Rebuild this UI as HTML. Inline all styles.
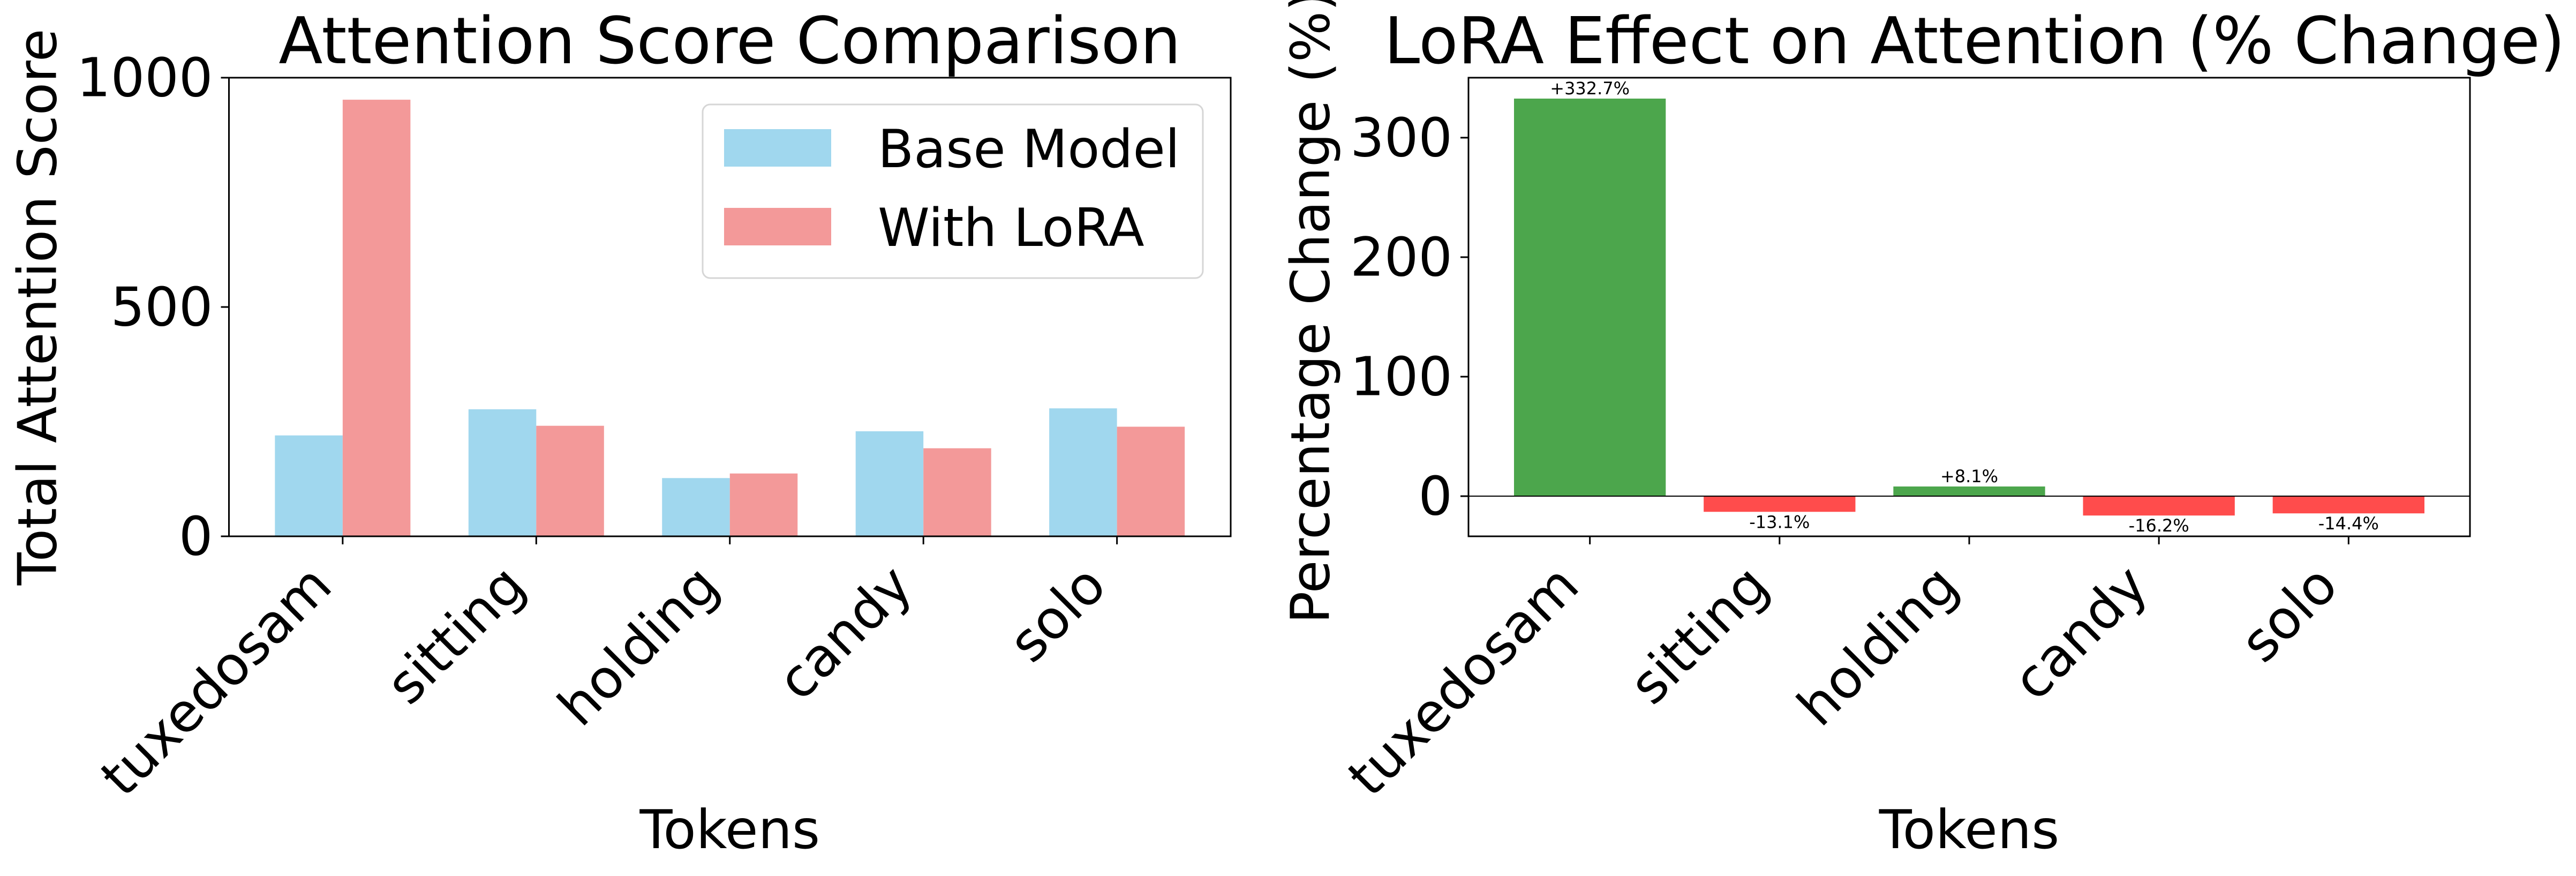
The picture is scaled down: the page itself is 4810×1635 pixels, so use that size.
<!DOCTYPE html>
<html><head><meta charset="utf-8"><style>
html,body{margin:0;padding:0;background:#fff;}
svg{display:block;font-family:"DejaVu Sans","Liberation Sans",sans-serif;}
</style></head><body>
<svg id="fig" width="4810" height="1635" viewBox="0 0 4810 1635" xmlns="http://www.w3.org/2000/svg">
<rect width="4810" height="1635" fill="#fff"/>
<g id="left"></g>
<g id="right"></g>
</svg>
<script>
const categories = ["tuxedosam","sitting","holding","candy","solo"];
const baseValues = [220, 277, 127, 229, 279];
const loraValues = [952, 241, 137, 192, 239];
const pctValues = [332.7, -13.1, 8.1, -16.2, -14.4];
const pctLabels = ["+332.7%","-13.1%","+8.1%","-16.2%","-14.4%"];
const leftYTicks = [0, 500, 1000];
const rightYTicks = [0, 100, 200, 300];

const NS = "http://www.w3.org/2000/svg";
function mk(tag, attrs, parent, text){
  const e = document.createElementNS(NS, tag);
  for (const k in attrs) e.setAttribute(k, attrs[k]);
  if (text !== undefined) e.textContent = text;
  parent.appendChild(e);
  return e;
}
const TOP = 145, BOT = 1001;
const TFS = 100;

// ---------- LEFT CHART ----------
const L = document.getElementById('left');
const lx0 = 427.5, lx1 = 2298;
const lxMin = -0.5875, lxMax = 4.5875;
const lyMin = 0, lyMax = 1000;
const lxs = v => lx0 + (v - lxMin) / (lxMax - lxMin) * (lx1 - lx0);
const lys = v => BOT - (v - lyMin) / (lyMax - lyMin) * (BOT - TOP);
const bw = 0.35;
categories.forEach((c, i) => {
  let r = mk('rect', {x: lxs(i - bw), y: lys(baseValues[i]), width: lxs(bw) - lxs(0), height: lys(0) - lys(baseValues[i]), fill: '#a0d7ee'}, L);
  
  
  let r2 = mk('rect', {x: lxs(i), y: lys(loraValues[i]), width: lxs(bw) - lxs(0), height: lys(0) - lys(loraValues[i]), fill: '#f39999'}, L);
  
  
});
let lf = mk('rect', {x: lx0, y: TOP, width: lx1 - lx0, height: BOT - TOP, fill: 'none', stroke: '#000', 'stroke-width': 3}, L);


leftYTicks.forEach(t => {
  mk('line', {x1: lx0 - 15, x2: lx0, y1: lys(t), y2: lys(t), stroke: '#000', 'stroke-width': 3}, L);
  let tl = mk('text', {x: lx0 - 30, y: lys(t), 'font-size': TFS, 'text-anchor': 'end', 'dominant-baseline': 'central'}, L, String(t));
  
  
});
categories.forEach((c, i) => {
  const x = lxs(i);
  mk('line', {x1: x, x2: x, y1: BOT, y2: BOT + 15, stroke: '#000', 'stroke-width': 3}, L);
  const cx = x - 40, cy = BOT + 15 + 18 + 40;
  let tl = mk('text', {x: cx, y: cy, 'font-size': TFS, 'text-anchor': 'end', 'dominant-baseline': 'central', transform: `rotate(-45 ${cx} ${cy})`}, L, c);
  
  
});
let lt = mk('text', {x: (lx0 + lx1) / 2, y: 118, 'font-size': 120, 'text-anchor': 'middle'}, L, 'Attention Score Comparison');


let lxl = mk('text', {x: (lx0 + lx1) / 2, y: 1583, 'font-size': TFS, 'text-anchor': 'middle'}, L, 'Tokens');


let lyl = mk('text', {x: 70, y: (TOP + BOT) / 2, 'font-size': TFS, 'text-anchor': 'middle', 'dominant-baseline': 'central', transform: `rotate(-90 70 ${(TOP + BOT) / 2})`}, L, 'Total Attention Score');


// legend
const lg = mk('g', {}, L);


mk('rect', {x: 1312, y: 195, width: 934, height: 324, rx: 14, fill: '#fff', 'fill-opacity': 0.8, stroke: '#d6d6d6', 'stroke-width': 3}, lg);
let le1 = mk('rect', {x: 1352, y: 241, width: 200, height: 70, fill: '#a0d7ee'}, lg);


let lt1 = mk('text', {x: 1639, y: 312, 'font-size': 98}, lg, 'Base Model');


let le2 = mk('rect', {x: 1352, y: 388, width: 200, height: 70, fill: '#f39999'}, lg);


let lt2 = mk('text', {x: 1639, y: 459, 'font-size': 98}, lg, 'With LoRA');



// ---------- RIGHT CHART ----------
const R = document.getElementById('right');
const rx0 = 2742, rx1 = 4612;
const rxMin = -0.64, rxMax = 4.64;
const ryMin = -33.6, ryMax = 350.2;
const rxs = v => rx0 + (v - rxMin) / (rxMax - rxMin) * (rx1 - rx0);
const rys = v => BOT - (v - ryMin) / (ryMax - ryMin) * (BOT - TOP);
const rbw = 0.8;
categories.forEach((c, i) => {
  const v = pctValues[i];
  const y = Math.min(rys(v), rys(0));
  const h = Math.abs(rys(v) - rys(0));
  let b = mk('rect', {x: rxs(i - rbw / 2), y: y, width: rxs(rbw) - rxs(0), height: h, fill: v >= 0 ? '#4ca64c' : '#ff4c4c'}, R);
  
  
  let t;
  if (v >= 0) t = mk('text', {x: rxs(i), y: rys(v) - 8, 'font-size': 32, 'text-anchor': 'middle'}, R, pctLabels[i]);
  else t = mk('text', {x: rxs(i), y: rys(v) + 30, 'font-size': 32, 'text-anchor': 'middle'}, R, pctLabels[i]);
  
  
});
let zl = mk('line', {x1: rx0, x2: rx1, y1: rys(0), y2: rys(0), stroke: '#000', 'stroke-width': 2}, R);


let rf = mk('rect', {x: rx0, y: TOP, width: rx1 - rx0, height: BOT - TOP, fill: 'none', stroke: '#000', 'stroke-width': 3}, R);


rightYTicks.forEach(t => {
  mk('line', {x1: rx0 - 15, x2: rx0, y1: rys(t), y2: rys(t), stroke: '#000', 'stroke-width': 3}, R);
  let tl = mk('text', {x: rx0 - 30, y: rys(t), 'font-size': TFS, 'text-anchor': 'end', 'dominant-baseline': 'central'}, R, String(t));
  
  
});
categories.forEach((c, i) => {
  const x = rxs(i);
  mk('line', {x1: x, x2: x, y1: BOT, y2: BOT + 15, stroke: '#000', 'stroke-width': 3}, R);
  const cx = x - 40, cy = BOT + 15 + 18 + 40;
  let tl = mk('text', {x: cx, y: cy, 'font-size': TFS, 'text-anchor': 'end', 'dominant-baseline': 'central', transform: `rotate(-45 ${cx} ${cy})`}, R, c);
  
  
});
let rt = mk('text', {x: (rx0 + rx1) / 2 + 10, y: 118, 'font-size': 120, 'text-anchor': 'middle'}, R, 'LoRA Effect on Attention (% Change)');


let rxl = mk('text', {x: (rx0 + rx1) / 2, y: 1583, 'font-size': TFS, 'text-anchor': 'middle'}, R, 'Tokens');


let ryl = mk('text', {x: 2447, y: (TOP + BOT) / 2, 'font-size': TFS, 'text-anchor': 'middle', 'dominant-baseline': 'central', transform: `rotate(-90 2447 ${(TOP + BOT) / 2})`}, R, 'Percentage Change (%)');


</script>
</body></html>
